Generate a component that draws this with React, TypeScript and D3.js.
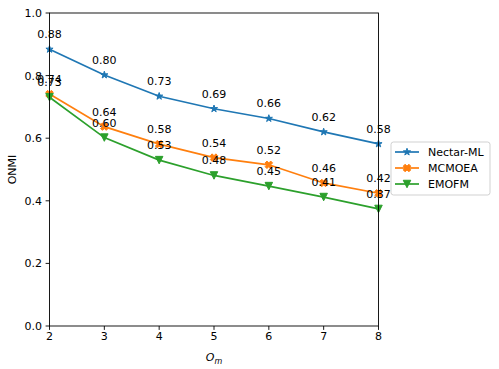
import * as React from "react";
import * as d3 from "d3";

const omValues = [2, 3, 4, 5, 6, 7, 8];
const nectarML = [0.884, 0.802, 0.734, 0.694, 0.663, 0.62, 0.582];
const mcmoea = [0.741, 0.637, 0.581, 0.538, 0.515, 0.457, 0.424];
const emofm = [0.731, 0.602, 0.53, 0.481, 0.447, 0.412, 0.374];
const yTicks = [0, 0.2, 0.4, 0.6, 0.8, 1.0];

const seriesList = [
  { name: "Nectar-ML", values: nectarML, color: "#1f77b4", marker: "star" },
  { name: "MCMOEA", values: mcmoea, color: "#ff7f0e", marker: "x" },
  { name: "EMOFM", values: emofm, color: "#2ca02c", marker: "tri" },
];

const FONT = "DejaVu Sans, sans-serif";

function markerPath(kind: string, ms: number) {
  let pts: number[][] = [];
  if (kind === "star") {
    const inner = 0.381966;
    for (let i = 0; i < 10; i++) {
      const r = i % 2 === 0 ? 1 : inner;
      const a = (Math.PI / 5) * i - Math.PI / 2;
      pts.push([r * Math.cos(a) * 0.5, r * Math.sin(a) * 0.5]);
    }
  } else if (kind === "x") {
    pts = [
      [-1, -2], [0, -1], [1, -2], [2, -1], [1, 0], [2, 1],
      [1, 2], [0, 1], [-1, 2], [-2, 1], [-1, 0], [-2, -1],
    ].map((p) => [p[0] / 4, p[1] / 4]);
  } else {
    pts = [[0, 0.5], [-0.5, -0.5], [0.5, -0.5]];
  }
  const p = d3.path();
  pts.forEach((q, i) => {
    if (i === 0) p.moveTo(q[0] * ms, q[1] * ms);
    else p.lineTo(q[0] * ms, q[1] * ms);
  });
  p.closePath();
  return p.toString();
}

export default function App() {
  const width = 499;
  const height = 369;
  const left = 49.5;
  const right = 378.5;
  const top = 13;
  const bottom = 326;

  const x = d3.scaleLinear().domain([2, 8]).range([left, right]);
  const y = d3.scaleLinear().domain([0, 1]).range([bottom, top]);

  const line = d3
    .line<number>()
    .x((d, i) => x(omValues[i]))
    .y((d) => y(d));

  const ms = 7.5;

  return (
    <svg
      width={width}
      height={height}
      style={{ position: "absolute", left: 0, top: 0, background: "white" }}
      fontFamily={FONT}
    >
      <rect width={width} height={height} fill="white" />

      {/* lines and markers */}
      {seriesList.map((s) => (
        <g key={s.name}>
          <path d={line(s.values) || ""} fill="none" stroke={s.color} strokeWidth={1.7} />
          {s.values.map((v, i) => (
            <path
              key={i}
              d={markerPath(s.marker, ms)}
              transform={`translate(${x(omValues[i])},${y(v)})`}
              fill={s.color}
              stroke={s.color}
              strokeWidth={1}
              strokeLinejoin="round"
            />
          ))}
        </g>
      ))}

      {/* value labels */}
      {seriesList.map((s) =>
        s.values.map((v, i) => (
          <text
            key={s.name + i}
            x={x(omValues[i])}
            y={y(v) - 11}
            textAnchor="middle"
            fontSize={11}
            fill="black"
          >
            {v.toFixed(2)}
          </text>
        ))
      )}

      {/* axes frame */}
      <rect
        x={left}
        y={top}
        width={right - left}
        height={bottom - top}
        fill="none"
        stroke="black"
        strokeWidth={0.9}
      />

      {/* x ticks */}
      {omValues.map((d) => (
        <g key={d} transform={`translate(${x(d)},${bottom})`}>
          <line y1={0} y2={3.9} stroke="black" strokeWidth={0.9} />
          <text y={14} textAnchor="middle" fontSize={11}>
            {d}
          </text>
        </g>
      ))}

      {/* y ticks */}
      {yTicks.map((d) => (
        <g key={d} transform={`translate(${left},${y(d)})`}>
          <line x1={0} x2={-3.9} stroke="black" strokeWidth={0.9} />
          <text x={-7.5} dy="0.36em" textAnchor="end" fontSize={11}>
            {d.toFixed(1)}
          </text>
        </g>
      ))}

      {/* axis labels */}
      <text x={(left + right) / 2} y={361} textAnchor="middle" fontSize={11} fontStyle="italic">
        O
        <tspan fontSize={8} dy={2.5}>
          m
        </tspan>
      </text>
      <text
        transform={`translate(16,${(top + bottom) / 2}) rotate(-90)`}
        textAnchor="middle"
        fontSize={11}
      >
        ONMI
      </text>

      {/* legend */}
      <g transform="translate(391,142)">
        <rect
          x={0}
          y={0}
          width={99}
          height={53}
          rx={2.5}
          fill="white"
          fillOpacity={0.8}
          stroke="#cccccc"
          strokeWidth={0.9}
        />
        {seriesList.map((s, i) => (
          <g key={s.name} transform={`translate(0,${10 + i * 16})`}>
            <line x1={4} x2={28} stroke={s.color} strokeWidth={1.7} />
            <path
              d={markerPath(s.marker, ms)}
              transform="translate(16,0)"
              fill={s.color}
              stroke={s.color}
              strokeWidth={1}
              strokeLinejoin="round"
            />
            <text x={37} dy="0.36em" fontSize={11}>
              {s.name}
            </text>
          </g>
        ))}
      </g>
    </svg>
  );
}
